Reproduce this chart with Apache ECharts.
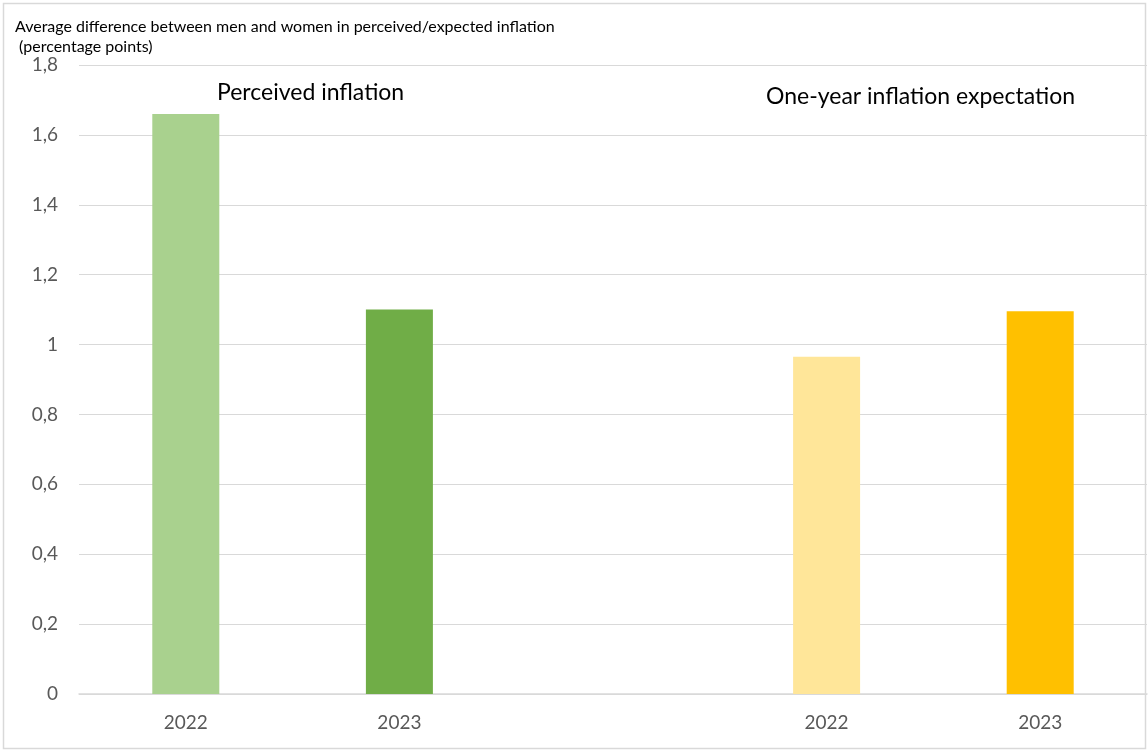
<!DOCTYPE html>
<html>
<head>
<meta charset="utf-8">
<script src="https://cdn.jsdelivr.net/npm/echarts@6/dist/echarts.min.js"></script>
<style>
  html, body { margin: 0; padding: 0; background: #fff; }
  #chart { width: 1148px; height: 751px; }
</style>
</head>
<body>
<div id="chart"></div>
<script>
// Year categories; the empty slot separates the two groups
const categories = ['2022', '2023', '', '2022', '2023'];
// Average gap (men vs women), percentage points
const values = [1.66, 1.10, null, 0.965, 1.095];
const barColors = ['#A9D18E', '#70AD47', null, '#FFE699', '#FFC000'];
const groupLabels = ['Perceived inflation', 'One-year inflation expectation'];
const yTicks = { min: 0, max: 1.8, interval: 0.2 };

const fontFamily = 'Lato, "Open Sans", sans-serif';
const chart = echarts.init(document.getElementById('chart'));

chart.setOption({
  animation: false,
  backgroundColor: '#fff',
  title: {
    text: 'Average difference between men and women in perceived/expected inflation\n (percentage points)',
    left: 15,
    top: 17,
    padding: 0,
    textStyle: { fontFamily, fontSize: 16, fontWeight: 'normal', color: '#000', lineHeight: 20 }
  },
  grid: { left: 79, right: 1, top: 65, bottom: 57 },
  xAxis: {
    type: 'category',
    data: categories,
    axisLine: { show: true, lineStyle: { color: '#D9D9D9', width: 1.5 } },
    axisTick: { show: false },
    axisLabel: { fontFamily, fontSize: 19, color: '#595959', margin: 19 }
  },
  yAxis: {
    type: 'value',
    min: yTicks.min,
    max: yTicks.max,
    interval: yTicks.interval,
    axisLine: { show: false },
    axisTick: { show: false },
    splitLine: { lineStyle: { color: '#D9D9D9', width: 1.2 } },
    axisLabel: {
      fontFamily, fontSize: 19, color: '#595959', margin: 21,
      formatter: v => String(Math.round(v * 10) / 10).replace('.', ',')
    }
  },
  series: [{
    type: 'bar',
    barWidth: 67,
    data: values.map((v, i) => v == null ? null : { value: v, itemStyle: { color: barColors[i] } })
  }],
  graphic: [
    {
      type: 'rect', silent: true, z: -1,
      shape: { x: 3.5, y: 3.5, width: 1142, height: 745 },
      style: { fill: null, stroke: '#D9D9D9', lineWidth: 1.5 }
    },
    {
      type: 'text', left: 217, top: 81,
      style: { text: groupLabels[0], font: '23px ' + fontFamily, fill: '#000' }
    },
    {
      type: 'text', left: 766, top: 85,
      style: { text: groupLabels[1], font: '23px ' + fontFamily, fill: '#000' }
    }
  ]
});
</script>
</body>
</html>
